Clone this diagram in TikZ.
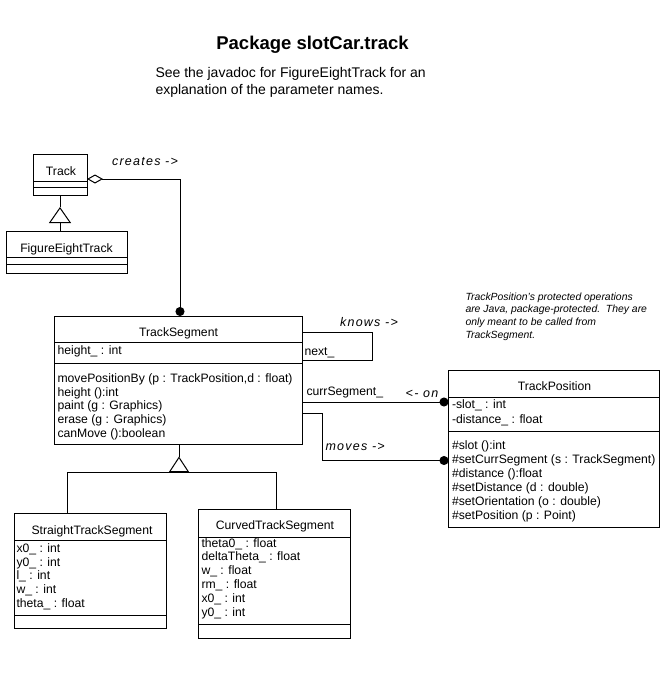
\documentclass[tikz,border=0pt]{standalone}
\usepackage{fontspec}
\setmainfont{Liberation Sans}
\usetikzlibrary{arrows.meta}
\tikzset{
  cls/.style={draw, inner sep=0pt, outer sep=0pt, anchor=north west},
  members/.style={anchor=north west, align=left, inner sep=0pt, font=\fontsize{12.2}{13.8}\selectfont},
  cname/.style={anchor=base, inner sep=0pt, font=\fontsize{12.2}{13.8}\selectfont},
  role/.style={anchor=base, inner sep=0pt, font=\itshape\fontsize{12.5}{13.8}\selectfont\addfontfeature{LetterSpace=10}},
  rolename/.style={anchor=base west, inner sep=0pt, font=\fontsize{12.2}{13.8}\selectfont},
  dot/.style={-{Circle[length=9pt]}}
}
\begin{document}
\begin{tikzpicture}[x=1pt,y=-1pt,line width=1pt]
\useasboundingbox (0,0) rectangle (669,673);
\node[anchor=base, inner sep=0pt, font=\bfseries\fontsize{18.5}{22}\selectfont] (title) at (312.5,49.5) {Package slotCar.track};
\node[anchor=north west, align=left, inner sep=0pt, font=\fontsize{14}{17.5}\selectfont] (intro) at (155,66.7) {See the javadoc for FigureEightTrack for an\\explanation of the parameter names.};
\node[anchor=north west, align=left, inner sep=0pt, font=\itshape\fontsize{10.4}{12.8}\selectfont] (note) at (465,292) {TrackPosition's protected operations\\are Java, package-protected.\ \ They are\\only meant to be called from\\TrackSegment.};

\node[cls, minimum width=54pt, minimum height=41pt] (track) at (33,154) {};
\draw (track.west |- 0,181) -- (track.east |- 0,181);
\draw (track.west |- 0,187.5) -- (track.east |- 0,187.5);
\node[cname] (trackname) at (61,175) {Track};

\node[cls, minimum width=121pt, minimum height=42pt] (fig) at (6,231) {};
\draw (fig.west |- 0,257.5) -- (fig.east |- 0,257.5);
\draw (fig.west |- 0,264.5) -- (fig.east |- 0,264.5);
\node[cname] (figname) at (66.5,252) {FigureEightTrack};

\node[cls, minimum width=248pt, minimum height=128pt] (seg) at (54,316) {};
\draw (seg.west |- 0,342.5) -- (seg.east |- 0,342.5);
\draw (seg.west |- 0,363) -- (seg.east |- 0,363);
\node[cname] (segname) at (178.5,336.5) {TrackSegment};
\node[members] (segattr) at (57,345) {height\_ : int};
\node[members] (segops) at (57,373) {movePositionBy (p : TrackPosition,d : float)\\height ():int\\paint (g : Graphics)\\erase (g : Graphics)\\canMove ():boolean};

\node[cls, minimum width=152pt, minimum height=115pt] (straight) at (14.5,513.5) {};
\draw (straight.west |- 0,540) -- (straight.east |- 0,540);
\draw (straight.west |- 0,615) -- (straight.east |- 0,615);
\node[cname] (straightname) at (92,534) {StraightTrackSegment};
\node[members] (straightattr) at (16,543) {x0\_ : int\\y0\_ : int\\l\_ : int\\w\_ : int\\theta\_ : float};

\node[cls, minimum width=151.5pt, minimum height=129pt] (curved) at (198.5,509) {};
\draw (curved.west |- 0,537) -- (curved.east |- 0,537);
\draw (curved.west |- 0,624.5) -- (curved.east |- 0,624.5);
\node[cname] (curvedname) at (275,529) {CurvedTrackSegment};
\node[members] (curvedattr) at (201,537.7) {theta0\_ : float\\deltaTheta\_ : float\\w\_ : float\\rm\_ : float\\x0\_ : int\\y0\_ : int};

\node[cls, minimum width=211pt, minimum height=157pt] (pos) at (448.5,370) {};
\draw (pos.west |- 0,397.5) -- (pos.east |- 0,397.5);
\draw (pos.west |- 0,431) -- (pos.east |- 0,431);
\node[cname] (posname) at (554.5,390.5) {TrackPosition};
\node[members, font=\fontsize{12.2}{15}\selectfont] (posattr) at (451.5,399.3) {-slot\_ : int\\-distance\_ : float};
\node[members, font=\fontsize{12.2}{13.9}\selectfont] (posops) at (451.5,440.3) {\#slot ():int\\\#setCurrSegment (s : TrackSegment)\\\#distance ():float\\\#setDistance (d : double)\\\#setOrientation (o : double)\\\#setPosition (p : Point)};

\coordinate (trackgen) at (60,207);
\draw[-{Triangle[open,length=16pt,width=22pt]}] (fig.north -| trackgen) -- (trackgen);
\draw (trackgen) -- (track.south -| trackgen);

\coordinate (creates) at (180,179);
\draw[{Diamond[open,length=16pt,width=9pt]}-{Circle[length=9pt]}] (track.east |- creates) -- (creates) -- (seg.north -| creates);
\node[role] (createslabel) at (145,165) {creates ->};

\coordinate (seggen) at (179,472);
\coordinate (segtip) at (179,456.5);
\coordinate (genleft) at (67,472);
\coordinate (genright) at (276,472);
\draw[-{Triangle[open,length=15.5pt,width=20pt]}] (seggen) -- (segtip);
\draw (segtip) -- (seg.south -| segtip);
\draw (straight.north -| genleft) |- (genright) -- (curved.north -| genright);

\coordinate (knows) at (372,332);
\draw (seg.east |- knows) -- (knows) |- (seg.east |- 0,360);
\node[role] (knowslabel) at (369,326) {knows ->};
\node[rolename] (nextlabel) at (304,355) {next\_};

\draw[dot] (seg.east |- 0,402) -- (pos.west |- 0,402);
\node[rolename] (currlabel) at (306,395) {currSegment\_};
\node[role] (onlabel) at (422,397) {<- on};

\coordinate (moves) at (322,413.5);
\draw[dot] (seg.east |- moves) -- (moves) |- (pos.west |- 0,460.5);
\node[role, anchor=base west] (moveslabel) at (325,450) {moves ->};
\end{tikzpicture}
\end{document}
